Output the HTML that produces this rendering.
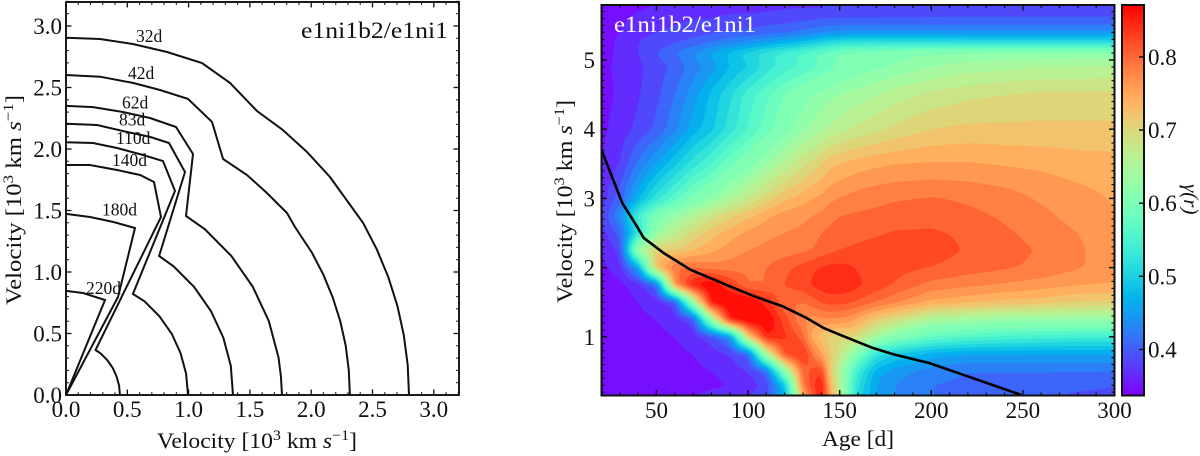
<!DOCTYPE html>
<html lang="en">
<head>
<meta charset="utf-8">
<title>e1ni1b2/e1ni1 velocity contours and gamma map</title>
<style>
html,body{margin:0;padding:0;background:#fff;}
svg{display:block;}
text{font-family:"Liberation Serif","DejaVu Serif",serif;fill:#111;}
</style>
</head>
<body>
<svg id="fig" xmlns="http://www.w3.org/2000/svg" width="1200" height="456" viewBox="0 0 1200 456">
  <defs>
    <clipPath id="mapClip"><rect x="601.5" y="5" width="513" height="390.5"/></clipPath>
    <linearGradient id="cbarGrad" x1="0" y1="1" x2="0" y2="0"></linearGradient>
  </defs>
  <g id="leftPlot"></g>
  <g id="rightPlot"></g>
  <g id="cbar"></g>

  <text x="157" y="448" font-size="22" textLength="200" lengthAdjust="spacingAndGlyphs">Velocity [10<tspan dy="-8" font-size="15">3</tspan><tspan dy="8"> km </tspan><tspan font-style="italic">s</tspan><tspan dy="-8" font-size="15">−1</tspan><tspan dy="8">]</tspan></text>
  <text transform="translate(21,305) rotate(-90)" font-size="22" textLength="210" lengthAdjust="spacingAndGlyphs">Velocity [10<tspan dy="-8" font-size="15">3</tspan><tspan dy="8"> km </tspan><tspan font-style="italic">s</tspan><tspan dy="-8" font-size="15">−1</tspan><tspan dy="8">]</tspan></text>
  <text x="301" y="38" font-size="23" textLength="147" lengthAdjust="spacingAndGlyphs">e1ni1b2/e1ni1</text>

  <text x="822" y="446" font-size="22" textLength="72" lengthAdjust="spacingAndGlyphs">Age [d]</text>
  <text transform="translate(572,303) rotate(-90)" font-size="22" textLength="203" lengthAdjust="spacingAndGlyphs">Velocity [10<tspan dy="-8" font-size="15">3</tspan><tspan dy="8"> km </tspan><tspan font-style="italic">s</tspan><tspan dy="-8" font-size="15">−1</tspan><tspan dy="8">]</tspan></text>
  <text x="614" y="32" font-size="23" textLength="142" lengthAdjust="spacingAndGlyphs" style="fill:#fff">e1ni1b2/e1ni1</text>
  <text transform="translate(1184,184) rotate(90)" font-size="21" font-style="italic">γ(r)</text>
</svg>
<script>
/* ---------- left panel data: velocity contours, [x, y] in 10^3 km/s ---------- */
const leftTicksLabels = ["0.0","0.5","1.0","1.5","2.0","2.5","3.0"];
const contourNames = ["32d","42d","62d","83d","110d","140d","180d","220d"];
const contour32d = [[0,2.905],[.277,2.894],[.546,2.854],[.824,2.789],[1.109,2.699],[1.338,2.537],[1.558,2.309],[1.77,2.154],[1.966,1.976],[2.153,1.772],[2.30,1.569],[2.423,1.399],[2.536,1.182],[2.63,.957],[2.703,.724],[2.755,.486],[2.787,.244],[2.798,0]];
const contour42d = [[0,2.602],[.277,2.588],[.546,2.537],[.767,2.48],[.995,2.407],[1.191,2.22],[1.281,1.919],[1.476,1.789],[1.639,1.642],[1.803,1.48],[1.868,1.366],[2.006,1.158],[2.099,.979],[2.176,.792],[2.237,.599],[2.281,.402],[2.307,.202],[2.316,0]];
const contour62d = [[0,2.35],[.22,2.341],[.465,2.301],[.685,2.252],[.897,2.179],[1.036,1.959],[.979,1.455],[1.132,1.348],[1.348,1.131],[1.524,.88],[1.654,.602],[1.733,.306],[1.753,.153],[1.762,0]];
const contour83d = [[0,2.205],[.253,2.195],[.498,2.138],[.685,2.098],[.84,2.049],[.971,1.813],[.759,1.13],[.877,1.046],[1.046,.878],[1.182,.683],[1.283,.467],[1.344,.237],[1.362,0]];
const contour110d = [[0,2.055],[.22,2.049],[.416,2.008],[.628,1.951],[.791,1.902],[.889,1.659],[.546,.821],[.64,.762],[.762,.64],[.862,.498],[.935,.34],[.98,.173],[.995,0]];
const contour140d = [[0,1.87],[.196,1.87],[.416,1.829],[.604,1.789],[.718,1.732],[.775,1.447],[.241,.366],[.283,.337],[.337,.283],[.381,.22],[.413,.15],[.433,.076],[.44,0]];
const contour180d = [[0,1.472],[.196,1.447],[.383,1.407],[.563,1.358],[.424,.797],[0,0]];
const contour220d = [[0,.846],[.139,.829],[.318,.772],[0,0]];
const contourLabelAnchors = [[.571,2.87],[.506,2.57],[.457,2.33],[.432,2.19],[.408,2.04],[.375,1.86],[.294,1.46],[.163,.82]];

/* ---------- right panel data: gamma(r) heat map ---------- */
const rightXTickLabels = ["50","100","150","200","250","300"];
const rightYTickLabels = ["1","2","3","4","5"];
const cbarTickLabels = ["0.4","0.5","0.6","0.7","0.8"];
const contourLevels = [.35,.37,.39,.41,.43,.45,.47,.49,.51,.53,.55,.57,.59,.62,.64,.66,.68,.70,.72,.74,.76,.78,.80,.82,.84,.86];
const ages = [20,30,40,50,60,70,80,90,100,110,120,130,135,140,145,150,155,160,170,180,200,220,240,260,280,300];
const velocities = [5.8,5.6,5.4,5.24,5.1,4.9,4.5,4,3.5,3,2.75,2.5,2.25,2,1.75,1.5,1.25,1,.75,.5,.3,.12];
const gammaV580 = [.34,.34,.345,.35,.35,.355,.36,.36,.36,.36,.365,.365,.365,.365,.37,.37,.37,.37,.372,.375,.378,.38,.38,.38,.38,.38];
const gammaV560 = [.34,.345,.355,.36,.365,.37,.37,.375,.375,.38,.38,.385,.385,.39,.39,.39,.39,.39,.39,.39,.39,.39,.39,.39,.39,.39];
const gammaV540 = [.34,.35,.365,.37,.375,.38,.385,.39,.395,.40,.405,.415,.42,.425,.43,.43,.435,.435,.435,.435,.435,.435,.435,.435,.435,.435];
const gammaV524 = [.34,.355,.37,.38,.39,.40,.415,.43,.44,.455,.47,.485,.495,.505,.515,.52,.525,.525,.525,.525,.525,.52,.52,.52,.52,.52];
const gammaV510 = [.34,.355,.37,.39,.41,.43,.455,.475,.50,.52,.54,.555,.565,.575,.585,.59,.595,.60,.605,.61,.62,.625,.625,.625,.625,.625];
const gammaV490 = [.345,.355,.365,.38,.395,.42,.44,.47,.49,.52,.54,.555,.565,.575,.585,.595,.60,.605,.615,.625,.64,.65,.655,.66,.66,.665];
const gammaV450 = [.34,.355,.368,.385,.41,.44,.475,.505,.54,.565,.592,.61,.62,.628,.635,.64,.645,.65,.66,.67,.685,.695,.70,.705,.705,.705];
const gammaV400 = [.345,.36,.375,.395,.425,.46,.485,.52,.552,.58,.61,.635,.645,.655,.665,.67,.68,.685,.695,.705,.72,.725,.725,.725,.725,.725];
const gammaV350 = [.35,.37,.415,.45,.485,.52,.55,.585,.61,.64,.665,.695,.705,.72,.735,.74,.745,.75,.755,.76,.762,.762,.758,.755,.75,.748];
const gammaV300 = [.36,.40,.465,.52,.56,.60,.625,.655,.68,.71,.735,.75,.76,.765,.775,.782,.785,.79,.795,.798,.802,.797,.79,.777,.768,.758];
const gammaV275 = [.37,.43,.54,.60,.635,.665,.69,.715,.735,.755,.77,.775,.78,.785,.795,.80,.802,.803,.805,.808,.81,.805,.797,.785,.772,.762];
const gammaV250 = [.36,.40,.52,.635,.675,.705,.73,.75,.765,.775,.78,.785,.79,.80,.805,.808,.81,.812,.817,.822,.824,.815,.803,.793,.78,.768];
const gammaV225 = [.35,.375,.65,.72,.72,.74,.755,.77,.78,.785,.79,.795,.80,.81,.815,.82,.823,.826,.83,.832,.83,.818,.808,.798,.783,.77];
const gammaV200 = [.345,.36,.45,.74,.80,.80,.79,.79,.795,.80,.815,.828,.837,.842,.846,.847,.844,.838,.832,.828,.82,.81,.803,.795,.782,.77];
const gammaV175 = [.34,.345,.36,.40,.78,.865,.885,.84,.80,.80,.822,.832,.843,.85,.855,.855,.852,.844,.832,.818,.793,.785,.778,.77,.762,.758];
const gammaV150 = [.34,.34,.35,.36,.38,.64,.87,.89,.89,.85,.80,.80,.81,.823,.827,.827,.824,.818,.80,.785,.755,.745,.735,.73,.72,.715];
const gammaV125 = [.34,.34,.345,.35,.36,.38,.64,.86,.89,.885,.83,.78,.77,.775,.78,.775,.77,.755,.72,.70,.655,.645,.635,.635,.635,.635];
const gammaV100 = [.34,.34,.34,.345,.35,.36,.38,.43,.72,.86,.845,.81,.75,.73,.71,.705,.71,.70,.65,.61,.57,.555,.545,.54,.535,.535];
const gammaV075 = [.34,.34,.34,.34,.345,.35,.36,.37,.395,.66,.83,.85,.80,.76,.72,.69,.65,.60,.52,.49,.46,.45,.45,.45,.45,.45];
const gammaV050 = [.34,.34,.34,.34,.34,.345,.35,.36,.37,.40,.62,.81,.825,.84,.72,.66,.59,.53,.46,.44,.42,.41,.41,.41,.41,.41];
const gammaV030 = [.34,.34,.34,.34,.34,.34,.345,.35,.36,.375,.48,.80,.83,.87,.74,.67,.58,.51,.45,.43,.41,.405,.40,.40,.395,.39];
const gammaV012 = [.34,.34,.34,.34,.345,.352,.36,.36,.37,.39,.46,.74,.81,.87,.76,.68,.58,.50,.45,.43,.41,.41,.405,.39,.385,.385];
const gammaRows = [gammaV580,gammaV560,gammaV540,gammaV524,gammaV510,gammaV490,gammaV450,gammaV400,gammaV350,gammaV300,gammaV275,gammaV250,gammaV225,gammaV200,gammaV175,gammaV150,gammaV125,gammaV100,gammaV075,gammaV050,gammaV030,gammaV012];
const photosphereAges = [20,31.4,39.5,43,54,68.5,89,105,119,132,141,150,168,179,199,223,249];
const photosphereVelocity = [3.7,2.93,2.59,2.43,2.21,1.97,1.74,1.57,1.44,1.27,1.13,1.03,.84,.75,.62,.40,.16];

/* ---------- axis functions ---------- */
const xL = v => 66 + v * 122.6;
const yL = v => 395 - v * 123;
const xR = a => 601.5 + (a - 20) * 1.8321;
const yR = v => 60 + (5 - v) * 69.2;
const gammaLow = 0.337, gammaHigh = 0.871;
const yC = g => 395.5 - (g - gammaLow) / (gammaHigh - gammaLow) * 390.5;
const NS = "http://www.w3.org/2000/svg";

function add(parent, tag, attrs, txt) {
  const el = document.createElementNS(NS, tag);
  for (const k in attrs) el.setAttribute(k, attrs[k]);
  if (txt !== undefined) el.textContent = txt;
  parent.appendChild(el);
  return el;
}
function tickLine(parent, x1, y1, x2, y2, w) {
  return add(parent, "line", {x1, y1, x2, y2, stroke: "#111", "stroke-width": w});
}
function rainbow(g) {
  const x = Math.min(1, Math.max(0, (g - gammaLow) / (gammaHigh - gammaLow)));
  const c = v => Math.round(255 * Math.min(1, Math.max(0, v)));
  return "rgb(" + c(Math.abs(2 * x - 0.5)) + "," + c(Math.sin(Math.PI * x)) + "," + c(Math.cos(Math.PI * x / 2)) + ")";
}
function bandColor(k) {
  return rainbow(gammaLow + (k + 0.5) * (gammaHigh - gammaLow) / 27);
}

/* ---------- left panel ---------- */
const leftPlot = document.getElementById("leftPlot");
const leftSeries = [contour32d,contour42d,contour62d,contour83d,contour110d,contour140d,contour180d,contour220d];
leftSeries.forEach((pts, i) => {
  const line = add(leftPlot, "polyline", {
    points: pts.map(p => xL(p[0]).toFixed(1) + "," + yL(p[1]).toFixed(1)).join(" "),
    fill: "none", stroke: "#111", "stroke-width": 2, "stroke-linejoin": "miter"
  });
  
  
  const lab = add(leftPlot, "text", {x: xL(contourLabelAnchors[i][0]), y: yL(contourLabelAnchors[i][1]), "font-size": 17.5}, contourNames[i]);
  
  
});
for (let k = 0; k <= 32; k++) {
  const v = k / 10, major = k % 5 === 0, len = major ? 5.5 : 2.8, w = major ? 1.3 : 1.1;
  const px = xL(v), py = yL(v);
  [[px,395,px,395-len],[px,2,px,2+len],[66,py,66+len,py],[459,py,459-len,py]].forEach(c => {
    const t = tickLine(leftPlot, c[0], c[1], c[2], c[3], w);
    
    
  });
}
leftTicksLabels.forEach((s, i) => {
  const v = parseFloat(s);
  const xt = add(leftPlot, "text", {x: xL(v), y: 417, "font-size": 23, "text-anchor": "middle"}, s);
  
  
  const yt = add(leftPlot, "text", {x: 62, y: yL(v) + 8, "font-size": 23, "text-anchor": "end"}, s);
  
  
});
const leftFrame = add(leftPlot, "rect", {x: 66, y: 2, width: 393, height: 393, fill: "none", stroke: "#111", "stroke-width": 1.9});



/* ---------- right panel: filled contours from the gamma grid ---------- */
function bracket(arr, v) {
  const desc = arr[0] > arr[arr.length - 1];
  for (let i = 0; i < arr.length - 1; i++) {
    const a = arr[i], b = arr[i + 1];
    if (desc ? v >= b : v <= b) {
      const t = (v - a) / (b - a);
      return [i, Math.min(1, Math.max(0, t))];
    }
  }
  return [arr.length - 2, 1];
}
function gammaAt(age, vel) {
  const [i, s] = bracket(ages, age);
  const [j, t] = bracket(velocities, vel);
  const r0 = gammaRows[j], r1 = gammaRows[j + 1];
  return (r0[i] * (1 - s) + r0[i + 1] * s) * (1 - t) + (r1[i] * (1 - s) + r1[i + 1] * s) * t;
}
const rightPlot = document.getElementById("rightPlot");
const mapGroup = add(rightPlot, "g", {"clip-path": "url(#mapClip)"});


const baseBand = add(mapGroup, "rect", {x: 601.5, y: 5, width: 513, height: 390.5, fill: bandColor(0)});



const STEP = 2.5;
const nx = Math.ceil(513 / STEP), ny = Math.ceil(390.5 / STEP);
const gx = i => 601.5 + i * 513 / nx;
const gy = j => 5 + j * 390.5 / ny;
let field = [];
for (let j = 0; j <= ny; j++) {
  const row = [], vel = 5 - (gy(j) - 60) / 69.2;
  for (let i = 0; i <= nx; i++) row.push(gammaAt(20 + (gx(i) - 601.5) / 1.8321, vel));
  field.push(row);
}
/* soften the bilinear kinks so contour edges stay smooth */
for (let pass = 0; pass < 2; pass++) {
  const next = [];
  for (let j = 0; j <= ny; j++) {
    const row = [];
    const up = field[Math.max(0, j - 1)], mid = field[j], dn = field[Math.min(ny, j + 1)];
    for (let i = 0; i <= nx; i++) {
      const l = Math.max(0, i - 1), r = Math.min(nx, i + 1);
      row.push((up[l] + 2*up[i] + up[r] + 2*mid[l] + 4*mid[i] + 2*mid[r] + dn[l] + 2*dn[i] + dn[r]) / 16);
    }
    next.push(row);
  }
  field = next;
}
function levelPath(L) {
  let d = "";
  for (let j = 0; j < ny; j++) {
    let run = -1;
    for (let i = 0; i <= nx; i++) {
      const full = i < nx && field[j][i] >= L && field[j][i+1] >= L && field[j+1][i] >= L && field[j+1][i+1] >= L;
      if (full) { if (run < 0) run = i; continue; }
      if (run >= 0) {
        d += "M" + gx(run).toFixed(1) + " " + gy(j).toFixed(1) + "H" + gx(i).toFixed(1) + "V" + gy(j+1).toFixed(1) + "H" + gx(run).toFixed(1) + "Z";
        run = -1;
      }
      if (i === nx) continue;
      const cx = [gx(i), gx(i+1), gx(i+1), gx(i)], cy = [gy(j), gy(j), gy(j+1), gy(j+1)];
      const cv = [field[j][i], field[j][i+1], field[j+1][i+1], field[j+1][i]];
      if (cv.every(q => q < L)) continue;
      const pts = [];
      for (let e = 0; e < 4; e++) {
        const f = (e + 1) % 4;
        if (cv[e] >= L) pts.push([cx[e], cy[e]]);
        if ((cv[e] >= L) !== (cv[f] >= L)) {
          const t = (L - cv[e]) / (cv[f] - cv[e]);
          pts.push([cx[e] + t * (cx[f] - cx[e]), cy[e] + t * (cy[f] - cy[e])]);
        }
      }
      d += "M" + pts.map(p => p[0].toFixed(1) + " " + p[1].toFixed(1)).join("L") + "Z";
    }
  }
  return d;
}
contourLevels.forEach((L, idx) => {
  const d = levelPath(L);
  if (!d) return;
  const band = add(mapGroup, "path", {d, fill: bandColor(idx + 1), "shape-rendering": "geometricPrecision"});
  
  
});
const photoLine = add(mapGroup, "polyline", {
  points: photosphereAges.map((a, i) => xR(a).toFixed(1) + "," + yR(photosphereVelocity[i]).toFixed(1)).join(" "),
  fill: "none", stroke: "#000", "stroke-width": 2.6, "stroke-linejoin": "round"
});



for (let a = 20; a <= 300; a += 10) {
  const major = a % 50 === 0, len = major ? 5.5 : 3, w = major ? 1.5 : 1.2, px = xR(a);
  [[px,395.5,px,395.5-len],[px,5,px,5+len]].forEach(c => {
    const t = tickLine(rightPlot, c[0], c[1], c[2], c[3], w);
    
    
  });
}
for (let k = 2; k <= 57; k++) {
  const major = k % 10 === 0, len = major ? 5.5 : 3, w = major ? 1.5 : 1.2, py = yR(k / 10);
  if (py > 395 || py < 5.5) continue;
  [[601.5,py,601.5+len,py],[1114.5,py,1114.5-len,py]].forEach(c => {
    const t = tickLine(rightPlot, c[0], c[1], c[2], c[3], w);
    
    
  });
}
rightXTickLabels.forEach(s => {
  const t = add(rightPlot, "text", {x: xR(+s), y: 418, "font-size": 23, "text-anchor": "middle"}, s);
  
  
});
rightYTickLabels.forEach(s => {
  const t = add(rightPlot, "text", {x: 595, y: yR(+s) + 8, "font-size": 23, "text-anchor": "end"}, s);
  
  
});
const rightFrame = add(rightPlot, "rect", {x: 601.5, y: 5, width: 513, height: 390.5, fill: "none", stroke: "#111", "stroke-width": 2});



/* ---------- colorbar ---------- */
const grad = document.getElementById("cbarGrad");
for (let s = 0; s <= 40; s++) {
  add(grad, "stop", {offset: (s / 40).toFixed(3), "stop-color": rainbow(gammaLow + (gammaHigh - gammaLow) * s / 40)});
}
const cbar = document.getElementById("cbar");
const cbarBody = add(cbar, "rect", {x: 1122, y: 5, width: 22, height: 390.5, fill: "url(#cbarGrad)", stroke: "#111", "stroke-width": 2});


cbarTickLabels.forEach(s => {
  const g = parseFloat(s), py = yC(g);
  const tick = tickLine(cbar, 1144, py, 1139, py, 1.5);
  
  
  const lab = add(cbar, "text", {x: 1148, y: py + 8, "font-size": 23}, s);
  
  
});
</script>
</body>
</html>
